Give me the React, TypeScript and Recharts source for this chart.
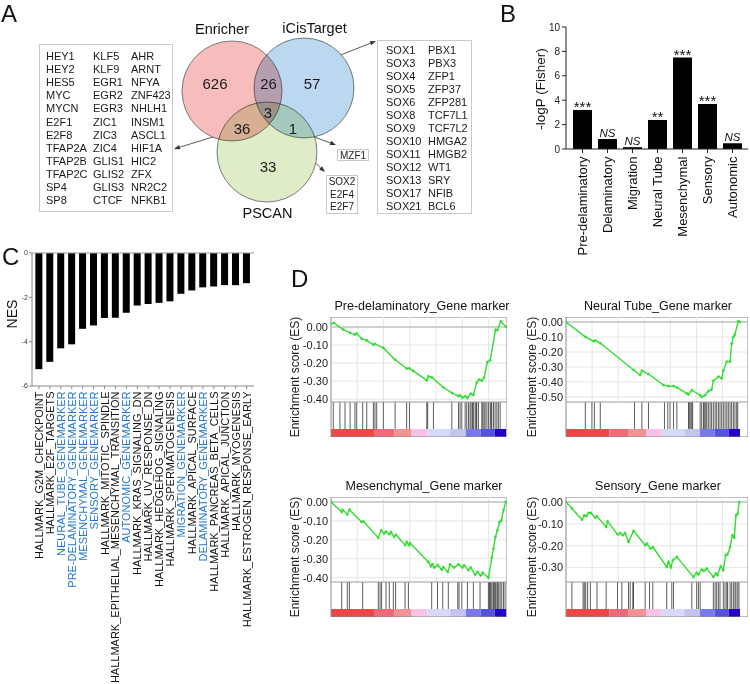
import React from "react";
import {
  Bar,
  BarChart,
  CartesianGrid,
  ComposedChart,
  LabelList,
  Line,
  ReferenceArea,
  ReferenceLine,
  Scatter,
  ScatterChart,
  XAxis,
  YAxis,
} from "recharts";

const FONT = 'Arial, "Liberation Sans", Helvetica, sans-serif';
const GREEN = "#33dd33";

// ---------- A: Venn of TF predictions ----------
const vennSets = ["Enricher", "iCisTarget", "PSCAN"];
// regions: Enricher only, E∩iCis, iCis only, E∩PSCAN, all three, iCis∩PSCAN, PSCAN only
const vennRegions = ["E", "EI", "I", "EP", "EIP", "IP", "P"];
const vennCounts = [626, 26, 57, 36, 3, 1, 33];

const enrPscanGenes = [
  "HEY1", "HEY2", "HES5", "MYC", "MYCN", "E2F1", "E2F8", "TFAP2A", "TFAP2B", "TFAP2C", "SP4", "SP8",
  "KLF5", "KLF9", "EGR1", "EGR2", "EGR3", "ZIC1", "ZIC3", "ZIC4", "GLIS1", "GLIS2", "GLIS3", "CTCF",
  "AHR", "ARNT", "NFYA", "ZNF423", "NHLH1", "INSM1", "ASCL1", "HIF1A", "HIC2", "ZFX", "NR2C2", "NFKB1",
];
const enrIcisGenes = [
  "SOX1", "SOX3", "SOX4", "SOX5", "SOX6", "SOX8", "SOX9", "SOX10", "SOX11", "SOX12", "SOX13", "SOX17", "SOX21",
  "PBX1", "PBX3", "ZFP1", "ZFP37", "ZFP281", "TCF7L1", "TCF7L2", "HMGA2", "HMGB2", "WT1", "SRY", "NFIB", "BCL6",
];
const icisPscanGenes = ["MZF1"];
const allThreeGenes = ["SOX2", "E2F4", "E2F7"];

// ---------- B: Fisher test ----------
const fisherGroups = ["Pre-delaminatory", "Delaminatory", "Migration", "Neural Tube", "Mesenchymal", "Sensory", "Autonomic"];
const fisherLogP = [3.2, 0.82, 0.15, 2.38, 7.5, 3.69, 0.47];
const fisherSig = ["***", "NS", "NS", "**", "***", "***", "NS"];
const fisherTicks = [0, 2, 4, 6, 8, 10];

// ---------- C: NES ----------
const nesSets = [
  "HALLMARK_G2M_CHECKPOINT",
  "HALLMARK_E2F_TARGETS",
  "NEURAL_TUBE_GENEMARKER",
  "PRE-DELAMINATORY_GENEMARKER",
  "MESENCHYMAL_GENEMARKER",
  "SENSORY_GENEMARKER",
  "HALLMARK_MITOTIC_SPINDLE",
  "HALLMARK_EPITHELIAL_MESENCHYMAL_TRANSITION",
  "AUTONOMIC_GENEMARKER",
  "HALLMARK_KRAS_SIGNALING_DN",
  "HALLMARK_UV_RESPONSE_DN",
  "HALLMARK_HEDGEHOG_SIGNALING",
  "HALLMARK_SPERMATOGENESIS",
  "MIGRATION_GENEMARKER",
  "HALLMARK_APICAL_SURFACE",
  "DELAMINATORY_GENEMARKER",
  "HALLMARK_PANCREAS_BETA_CELLS",
  "HALLMARK_APICAL_JUNCTION",
  "HALLMARK_MYOGENESIS",
  "HALLMARK_ESTROGEN_RESPONSE_EARLY",
];
const nesValues = [-5.24, -4.91, -4.3, -4.12, -3.42, -3.27, -2.93, -2.92, -2.7, -2.37, -2.3, -2.25, -2.18, -1.84, -1.69, -1.55, -1.51, -1.45, -1.45, -1.36];
const nesTicks = [0, -2, -4, -6];

// ---------- D: GSEA running scores [rank %, ES] and hit ranks ----------
const preDelCurve = [
  [0, 0.017], [1.7, 0.022], [7.0, -0.015], [10.9, -0.033], [13.7, -0.042], [14.7, -0.037], [17.5, -0.065],
  [20.4, -0.074], [24.2, -0.098], [25.1, -0.094], [29.9, -0.116], [36.6, -0.181], [43.2, -0.23], [44.8, -0.229],
  [47.0, -0.243], [54.7, -0.295], [55.6, -0.273], [57.5, -0.278], [64.2, -0.335], [69.0, -0.365], [72.8, -0.383],
  [73.7, -0.378], [75.0, -0.391], [76.6, -0.383], [77.9, -0.393], [79.8, -0.369], [81.3, -0.376], [83.2, -0.308],
  [84.6, -0.291], [86.1, -0.297], [87.4, -0.28], [89.3, -0.194], [90.9, -0.184], [94.0, -0.015], [95.0, -0.018],
  [96.9, 0.031], [100, 0],
];
const preDelHits = [
  1.3, 5.1, 8.0, 10.9, 13.7, 14.7, 18.1, 20.4, 24.2, 25.1, 26.1, 29.9, 36.6, 43.2, 44.8, 54.7, 55.2, 58.5, 69.0,
  72.8, 73.7, 74.7, 76.6, 77.5, 78.5, 79.4, 80.0, 80.8, 81.3, 82.3, 82.9, 83.2, 84.2, 86.1, 86.7, 87.4, 88.0, 89.0,
  89.9, 90.9, 91.4, 91.8, 92.8, 93.7, 94.7, 95.6, 96.6,
];
const neuralCurve = [
  [0, 0], [11.1, -0.099], [15.9, -0.128], [16.8, -0.122], [19.7, -0.14], [38.8, -0.32], [42.6, -0.354],
  [43.6, -0.324], [47.4, -0.347], [56.0, -0.421], [58.9, -0.428], [61.8, -0.428], [63.7, -0.437], [69.4, -0.477],
  [70.4, -0.484], [72.3, -0.455], [77.1, -0.489], [78.0, -0.5], [79.9, -0.489], [81.8, -0.462], [83.7, -0.45],
  [84.7, -0.392], [87.6, -0.365], [89.5, -0.376], [90.4, -0.324], [92.4, -0.264], [94.3, -0.264], [95.2, -0.144],
  [96.2, -0.099], [97.1, -0.083], [99.0, 0.007], [100, 0],
];
const neuralHits = [
  11.1, 14.9, 16.3, 19.7, 39.4, 43.6, 47.4, 56.6, 58.5, 59.8, 61.8, 63.7, 70.4, 70.9, 71.7, 72.3, 72.8, 77.1, 78.0,
  79.0, 79.5, 80.3, 80.9, 81.8, 82.8, 83.7, 84.7, 85.7, 86.6, 87.6, 88.5, 89.5, 90.4, 91.4, 92.4, 93.3, 94.3, 95.2,
  96.2, 97.1, 98.1, 98.7,
];
const mesCurve = [
  [0, 0], [6.1, -0.053], [6.7, -0.042], [9.3, -0.067], [10.5, -0.041], [17.5, -0.106], [18.5, -0.102],
  [27.0, -0.189], [28.6, -0.15], [30.3, -0.167], [31.4, -0.157], [33.3, -0.171], [34.3, -0.159], [36.0, -0.185],
  [37.1, -0.174], [42.3, -0.229], [43.2, -0.211], [44.6, -0.229], [45.1, -0.217], [55.6, -0.317], [57.0, -0.34],
  [57.9, -0.328], [58.9, -0.347], [61.0, -0.333], [63.2, -0.358], [64.2, -0.344], [66.7, -0.37], [68.0, -0.33],
  [70.3, -0.347], [72.8, -0.33], [75.0, -0.347], [76.0, -0.335], [78.5, -0.361], [79.8, -0.347], [82.3, -0.384],
  [83.6, -0.37], [85.5, -0.388], [86.7, -0.374], [89.9, -0.4], [91.8, -0.294], [92.8, -0.247], [93.9, -0.185],
  [95.0, -0.15], [96.2, -0.106], [97.3, -0.097], [98.5, -0.044], [99.8, 0],
];
const mesHits = [
  6.1, 9.3, 10.5, 18.1, 27.0, 28.0, 28.9, 31.4, 33.3, 35.6, 36.9, 42.3, 44.2, 57.5, 60.8, 63.8, 67.0, 72.4, 73.1,
  74.7, 77.9, 81.3, 85.1, 89.9, 90.5, 90.9, 91.4, 92.0, 92.8, 93.3, 93.9, 94.7, 95.2, 95.8, 96.6, 97.5, 98.5, 99.4,
];
const sensoryCurve = [
  [0, 0], [3.4, -0.03], [9.2, -0.081], [10.5, -0.061], [11.7, -0.065], [13.0, -0.049], [14.3, -0.05],
  [16.8, -0.072], [17.8, -0.065], [23.1, -0.114], [23.9, -0.088], [29.6, -0.148], [31.2, -0.142], [32.7, -0.152],
  [34.0, -0.142], [35.9, -0.183], [38.8, -0.132], [45.5, -0.198], [46.5, -0.19], [48.4, -0.213], [49.9, -0.206],
  [57.9, -0.297], [58.9, -0.274], [60.2, -0.3], [61.4, -0.266], [63.7, -0.251], [73.2, -0.343], [75.1, -0.324],
  [76.1, -0.332], [78.0, -0.309], [79.3, -0.315], [80.9, -0.305], [84.7, -0.343], [86.2, -0.327], [87.0, -0.335],
  [88.9, -0.294], [90.4, -0.312], [91.8, -0.244], [92.9, -0.239], [94.3, -0.206], [95.6, -0.152], [96.7, -0.163],
  [97.7, -0.061], [98.7, -0.053], [99.6, 0],
];
const sensoryHits = [
  3.4, 9.8, 10.5, 11.3, 12.4, 14.0, 17.8, 23.1, 29.6, 32.1, 35.9, 36.9, 38.4, 38.8, 45.5, 48.0, 49.9, 57.9, 60.8,
  61.8, 72.3, 75.1, 76.1, 77.1, 84.7, 85.7, 86.6, 87.6, 88.5, 90.4, 91.4, 92.4, 92.9, 94.3, 95.2, 96.2, 97.1, 97.7,
  98.7, 99.4,
];

// ranked-list colour bar and grid (style)
const rankBandEdges = [0, 25, 36, 46, 55, 68, 77, 85.5, 93.5, 100];
const rankBandColors = ["#f04646", "#f06a7c", "#f39292", "#f8c2e6", "#d8d8f8", "#c4c4f2", "#7878ea", "#5252dc", "#2200c6"];
const gridRanks = [15, 30, 45, 60, 75, 90];

// ---------- layout ----------
const VENN_R = 50;
const vennCircleAt: Record<string, number[]> = { Enricher: [232, 91], iCisTarget: [304, 88], PSCAN: [267, 152] };
const vennFill: Record<string, string> = { Enricher: "#f7bcbc", iCisTarget: "#bcd7f0", PSCAN: "#deedc8" };
const vennCountAt: Record<string, number[]> = {
  E: [215, 83], EI: [268.5, 83], I: [312, 83], EP: [242, 128], EIP: [268, 112], IP: [293, 128], P: [268, 166],
};
const vennArrows = [
  [[280, 79], [376, 41]],
  [[232, 131], [174, 149]],
  [[269, 119], [325, 172]],
  [[298, 131], [336, 145]],
];

const circleData = vennSets.map((s) => ({ name: s, x: vennCircleAt[s][0], y: vennCircleAt[s][1] }));
const countData = vennRegions.map((r, i) => ({ region: r, n: vennCounts[i], x: vennCountAt[r][0], y: vennCountAt[r][1] }));
const fisherData = fisherGroups.map((g, i) => ({ group: g, logP: fisherLogP[i], sig: fisherSig[i] }));
const nesData = nesSets.map((s, i) => ({ set: s, nes: nesValues[i] }));

const renderCircle = (p: any) => (
  <circle
    cx={p.cx}
    cy={p.cy}
    r={VENN_R}
    fill={vennFill[p.payload.name]}
    stroke="#5e5e5e"
    strokeWidth={0.8}
    style={{ mixBlendMode: "multiply" }}
  />
);

const renderCount = (p: any) => (
  <text x={p.cx} y={p.cy} textAnchor="middle" dominantBaseline="central" fontSize={15} fill="#1a1a1a" fontFamily={FONT}>
    {p.payload.n}
  </text>
);

const renderArrow = (p: any) => {
  const { x1, y1, x2, y2 } = p;
  const a = Math.atan2(y2 - y1, x2 - x1);
  const L = 6;
  const W = 2.2;
  const bx = x2 - L * Math.cos(a);
  const by = y2 - L * Math.sin(a);
  const pts = `${x2},${y2} ${bx - W * Math.sin(a)},${by + W * Math.cos(a)} ${bx + W * Math.sin(a)},${by - W * Math.cos(a)}`;
  return (
    <g>
      <line x1={x1} y1={y1} x2={bx} y2={by} stroke="#333" strokeWidth={0.8} />
      <polygon points={pts} fill="#333" />
    </g>
  );
};

function GeneBox({ genes, rows, left, top, width, height, colX, padTop, fontSize = 11, lineHeight = 13.05, center = false }: any) {
  const cols: string[][] = [];
  for (let i = 0; i < genes.length; i += rows) cols.push(genes.slice(i, i + rows));
  return (
    <div
      style={{
        position: "absolute",
        left,
        top,
        width,
        height,
        border: "1px solid #c9c9c9",
        boxSizing: "border-box",
        background: "#fff",
      }}
    >
      {cols.map((c, j) => (
        <div
          key={j}
          style={{
            position: "absolute",
            left: center ? 0 : colX[j],
            width: center ? "100%" : undefined,
            textAlign: center ? "center" : "left",
            top: padTop,
            fontSize,
            lineHeight: `${lineHeight}px`,
            whiteSpace: "pre",
            color: "#1a1a1a",
          }}
        >
          {c.join("\n")}
        </div>
      ))}
    </div>
  );
}

const renderFisherTick = (p: any) => {
  const { x, y, payload } = p;
  return (
    <text x={x} y={y} transform={`rotate(-90 ${x} ${y})`} textAnchor="end" dominantBaseline="central" fontSize={13} fill="#111" fontFamily={FONT}>
      {payload.value}
    </text>
  );
};

const renderSig = (p: any) => {
  const { x, y, width, value } = p;
  const cx = x + width / 2;
  if (value === "NS") {
    return (
      <text x={cx} y={y - 2} textAnchor="middle" fontSize={11.5} fontStyle="italic" fill="#111" fontFamily={FONT}>
        NS
      </text>
    );
  }
  return (
    <text x={cx} y={y + 2} textAnchor="middle" fontSize={15} fill="#111" fontFamily={FONT}>
      {value}
    </text>
  );
};

const renderNesTick = (p: any) => {
  const { x, y, payload } = p;
  const v = String(payload.value);
  return (
    <text
      x={x}
      y={y}
      transform={`rotate(-90 ${x} ${y})`}
      textAnchor="end"
      dominantBaseline="central"
      fontSize={11}
      fill={v.includes("GENEMARKER") ? "#1f78d1" : "#111"}
      fontFamily={FONT}
    >
      {v}
    </text>
  );
};

function GseaPlot({ curve, hits, ticks, esLo, esHi, xMax, left, top, width }: any) {
  const span = esHi - esLo;
  const hitsLo = esLo - (span * 27) / 85;
  const fullLo = esLo - (span * 35) / 85;
  const data = curve.map(([rank, es]: number[]) => ({ rank, es }));
  return (
    <div style={{ position: "absolute", left, top }}>
      <ComposedChart width={width} height={120} data={data} margin={{ top: 0, right: 0, bottom: 0, left: 0 }}>
        <XAxis type="number" dataKey="rank" domain={[0, xMax]} allowDataOverflow hide />
        <YAxis
          type="number"
          domain={[fullLo, esHi]}
          allowDataOverflow
          ticks={ticks}
          interval={0}
          tickFormatter={(v: number) => v.toFixed(2)}
          axisLine={false}
          tickLine={false}
          tickSize={0}
          tickMargin={3}
          width={71}
          tick={{ fontSize: 11, fill: "#222", fontFamily: FONT }}
        />
        <CartesianGrid vertical={false} stroke="#e6e6e6" />
        {gridRanks.map((g) => (
          <ReferenceLine key={`g${g}`} segment={[{ x: g, y: esLo }, { x: g, y: esHi }]} stroke="#e6e6e6" />
        ))}
        <ReferenceLine y={0} stroke="#c4c4c4" strokeWidth={1.5} />
        {rankBandColors.map((c, i) => (
          <ReferenceArea
            key={`b${i}`}
            x1={rankBandEdges[i]}
            x2={rankBandEdges[i + 1]}
            y1={fullLo}
            y2={hitsLo}
            fill={c}
            fillOpacity={1}
            stroke="none"
          />
        ))}
        {hits.map((h: number, i: number) => (
          <ReferenceLine key={`h${i}`} segment={[{ x: h, y: hitsLo }, { x: h, y: esLo }]} stroke="#111" strokeWidth={0.8} strokeOpacity={0.85} />
        ))}
        <ReferenceLine y={esLo} stroke="#9a9a9a" />
        <ReferenceArea x1={0} x2={xMax} y1={fullLo} y2={esHi} fill="none" stroke="#8a8a8a" strokeWidth={1} />
        <Line
          type="linear"
          dataKey="es"
          stroke={GREEN}
          strokeWidth={1.4}
          dot={{ r: 1.1, fill: GREEN, stroke: GREEN, strokeWidth: 0.5 }}
          isAnimationActive={false}
        />
      </ComposedChart>
    </div>
  );
}

const gseaPanels = [
  { title: "Pre-delaminatory_Gene marker", curve: preDelCurve, hits: preDelHits, ticks: [0, -0.1, -0.2, -0.3, -0.4], esLo: -0.415, esHi: 0.055, xMax: 100.5, left: 260, top: 317, width: 247, tx: 422, ty: 309.5, lx: 294.5 },
  { title: "Neural Tube_Gene marker", curve: neuralCurve, hits: neuralHits, ticks: [0, -0.1, -0.2, -0.3, -0.4, -0.5], esLo: -0.534, esHi: 0.034, xMax: 104.6, left: 495, top: 317, width: 253, tx: 658, ty: 310, lx: 532 },
  { title: "Mesenchymal_Gene marker", curve: mesCurve, hits: mesHits, ticks: [0, -0.1, -0.2, -0.3, -0.4], esLo: -0.423, esHi: 0.026, xMax: 100.5, left: 260, top: 497, width: 247, tx: 424, ty: 489.5, lx: 294.5 },
  { title: "Sensory_Gene marker", curve: sensoryCurve, hits: sensoryHits, ticks: [0, -0.1, -0.2, -0.3], esLo: -0.366, esHi: 0.023, xMax: 104.6, left: 495, top: 497, width: 253, tx: 658, ty: 489.5, lx: 532 },
];

export default function App() {
  return (
    <div
      style={{
        position: "absolute",
        left: 0,
        top: 0,
        width: 750,
        height: 684,
        background: "#fff",
        fontFamily: FONT,
        overflow: "hidden",
      }}
    >
      {/* A: Venn */}
      <div style={{ position: "absolute", left: 170, top: 0 }}>
        <ScatterChart width={300} height={230} margin={{ top: 0, right: 0, bottom: 0, left: 0 }}>
          <XAxis type="number" dataKey="x" domain={[170, 470]} allowDataOverflow hide />
          <YAxis type="number" dataKey="y" domain={[0, 230]} reversed allowDataOverflow hide />
          <Scatter data={circleData} shape={renderCircle} isAnimationActive={false} />
          <Scatter data={countData} shape={renderCount} isAnimationActive={false} />
          {vennArrows.map((a, i) => (
            <ReferenceLine
              key={i}
              segment={[{ x: a[0][0], y: a[0][1] }, { x: a[1][0], y: a[1][1] }]}
              shape={renderArrow}
              ifOverflow="visible"
            />
          ))}
        </ScatterChart>
      </div>
      <GeneBox genes={enrPscanGenes} rows={12} left={39} top={44} width={134} height={168} colX={[6, 53, 91]} padTop={5.3} />
      <GeneBox genes={enrIcisGenes} rows={13} left={377} top={40} width={95} height={174} colX={[8, 50]} padTop={2.6} />
      <GeneBox genes={icisPscanGenes} rows={1} left={337} top={149} width={32} height={12} padTop={-0.5} fontSize={10} lineHeight={11} center />
      <GeneBox genes={allThreeGenes} rows={3} left={326} top={175} width={32} height={39} padTop={0} fontSize={10} lineHeight={12.7} center />

      {/* B: Fisher */}
      <div style={{ position: "absolute", left: 490, top: 0 }}>
        <BarChart width={260} height={270} data={fisherData} margin={{ top: 27, right: 2, bottom: 0, left: 0 }} barCategoryGap="12%">
          <XAxis
            dataKey="group"
            interval={0}
            height={121}
            tickSize={4}
            tickMargin={3.5}
            axisLine={{ stroke: "#222" }}
            tickLine={{ stroke: "#222" }}
            padding={{ left: 4, right: 3 }}
            tick={renderFisherTick}
          />
          <YAxis
            domain={[0, 10]}
            ticks={fisherTicks}
            interval={0}
            width={76}
            tickSize={4}
            tickMargin={2}
            axisLine={{ stroke: "#222" }}
            tickLine={{ stroke: "#222" }}
            tick={{ fontSize: 10, fill: "#222", fontFamily: FONT }}
          />
          <Bar dataKey="logP" fill="#000" isAnimationActive={false}>
            <LabelList dataKey="sig" content={renderSig} />
          </Bar>
        </BarChart>
      </div>

      {/* C: NES */}
      <div style={{ position: "absolute", left: 0, top: 240 }}>
        <BarChart width={260} height={444} data={nesData} margin={{ top: 13, right: 6, bottom: 0, left: 0 }} barCategoryGap="17%">
          <XAxis
            dataKey="set"
            interval={0}
            height={298}
            tickSize={3}
            tickMargin={2.5}
            axisLine={{ stroke: "#888" }}
            tickLine={{ stroke: "#888" }}
            padding={{ left: 1.5, right: 2 }}
            tick={renderNesTick}
          />
          <YAxis
            domain={[-6, 0]}
            ticks={nesTicks}
            interval={0}
            width={32}
            tickSize={3}
            tickMargin={1}
            axisLine={{ stroke: "#888" }}
            tickLine={{ stroke: "#888" }}
            tick={{ fontSize: 7, fill: "#333", fontFamily: FONT }}
          />
          <ReferenceLine y={0} stroke="#999" />
          <Bar dataKey="nes" fill="#000" isAnimationActive={false} />
        </BarChart>
      </div>

      {/* D: GSEA */}
      {gseaPanels.map((g) => (
        <GseaPlot key={g.title} {...g} />
      ))}

      {/* static labels */}
      <svg width={750} height={684} style={{ position: "absolute", left: 0, top: 0, pointerEvents: "none" }} fontFamily={FONT}>
        <text x={1} y={22} fontSize={24} fill="#111">A</text>
        <text x={500} y={22} fontSize={24} fill="#111">B</text>
        <text x={2} y={265} fontSize={24} fill="#111">C</text>
        <text x={291} y={287} fontSize={24} fill="#111">D</text>

        <text x={222} y={29} fontSize={14.5} textAnchor="middle" dominantBaseline="central" fill="#111">Enricher</text>
        <text x={314.5} y={28} fontSize={14.5} textAnchor="middle" dominantBaseline="central" fill="#111">iCisTarget</text>
        <text x={267.5} y={213} fontSize={14.5} textAnchor="middle" dominantBaseline="central" fill="#111">PSCAN</text>

        <text x={540} y={89} fontSize={13.5} textAnchor="middle" dominantBaseline="central" transform="rotate(-90 540 89)" fill="#111">
          -logP (Fisher)
        </text>
        <text x={12} y={314} fontSize={14} textAnchor="middle" dominantBaseline="central" transform="rotate(-90 12 314)" fill="#111">
          NES
        </text>

        {gseaPanels.map((g) => (
          <g key={`t${g.title}`}>
            <text x={g.tx} y={g.ty} fontSize={12.5} textAnchor="middle" fill="#111">{g.title}</text>
            <text
              x={g.lx}
              y={g.top + 60}
              fontSize={12}
              textAnchor="middle"
              dominantBaseline="central"
              transform={`rotate(-90 ${g.lx} ${g.top + 60})`}
              fill="#222"
            >
              Enrichment score (ES)
            </text>
          </g>
        ))}
      </svg>
    </div>
  );
}
